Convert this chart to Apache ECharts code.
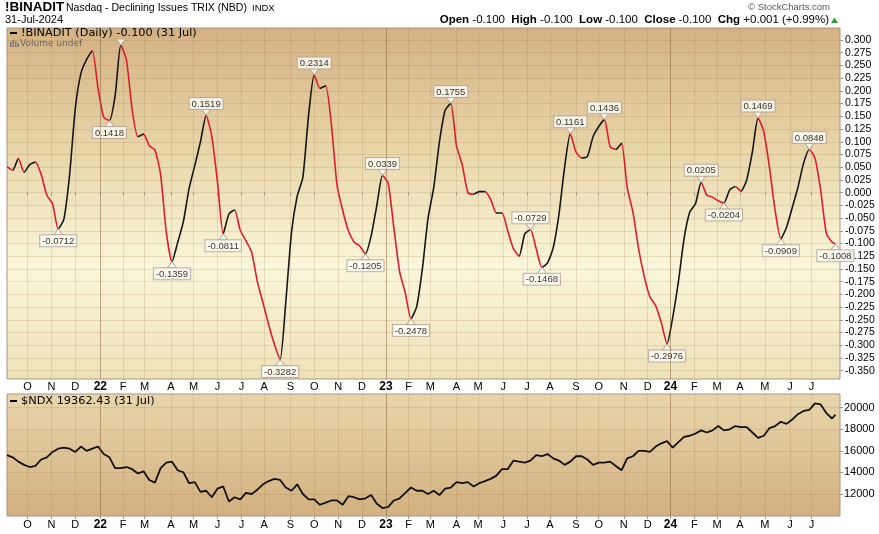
<!DOCTYPE html>
<html>
<head>
<meta charset="utf-8">
<title>!BINADIT Nasdaq - Declining Issues TRIX (NBD)</title>
<script src="https://cdn.jsdelivr.net/npm/echarts@6/dist/echarts.min.js"></script>
<style>
  html, body { margin: 0; padding: 0; background: #fff; }
  #chart { width: 879px; height: 534px; }
</style>
</head>
<body>
<div id="chart"></div>
<script>
// trading calendar: NYSE closed days inside the window
const holidays = [
  '2021-11-25', '2021-12-24', '2022-01-17', '2022-02-21', '2022-04-15', '2022-05-30',
  '2022-06-20', '2022-07-04', '2022-09-05', '2022-11-24', '2022-12-26', '2023-01-02',
  '2023-01-16', '2023-02-20', '2023-04-07', '2023-05-29', '2023-06-19', '2023-07-04',
  '2023-09-04', '2023-11-23', '2023-12-25', '2024-01-01', '2024-01-15', '2024-02-19',
  '2024-03-29', '2024-05-27', '2024-06-19', '2024-07-04'
];
const firstDay = '2021-09-07';
const lastDay = '2024-07-31';
const axisEndDay = '2024-08-06'; // a few blank days right of the last bar

// one reading per week (every 5th trading day), last one is 31 Jul 2024
const trixWeekly = [
  0.051, 0.044, 0.067, 0.040, 0.055, 0.060, 0.036, -0.005, -0.022, -0.0712,
  -0.052, 0.035, 0.165, 0.235, 0.262, 0.279, 0.205, 0.148, 0.1418, 0.190,
  0.290, 0.260, 0.163, 0.110, 0.115, 0.092, 0.084, 0.035, -0.078, -0.1359,
  -0.098, -0.057, 0.008, 0.053, 0.100, 0.1519, 0.110, 0.020, -0.0811, -0.042,
  -0.034, -0.074, -0.095, -0.117, -0.175, -0.217, -0.260, -0.298, -0.3282, -0.215,
  -0.078, -0.007, 0.030, 0.152, 0.2314, 0.205, 0.210, 0.135, 0.015, -0.035,
  -0.075, -0.097, -0.105, -0.1205, -0.085, -0.025, 0.0339, 0.018, -0.070, -0.155,
  -0.197, -0.2478, -0.224, -0.150, -0.050, 0.010, 0.100, 0.162, 0.1755, 0.092,
  0.055, 0.000, -0.003, 0.002, 0.002, -0.013, -0.040, -0.040, -0.075, -0.110,
  -0.125, -0.081, -0.0729, -0.110, -0.1468, -0.138, -0.108, -0.043, 0.050, 0.1161,
  0.080, 0.068, 0.071, 0.110, 0.130, 0.1436, 0.090, 0.085, 0.097, 0.010,
  -0.038, -0.110, -0.165, -0.205, -0.222, -0.256, -0.2976, -0.245, -0.175, -0.090,
  -0.038, -0.022, 0.0205, -0.005, -0.009, -0.016, -0.0204, 0.005, 0.012, 0.003,
  0.025, 0.080, 0.1469, 0.120, 0.050, -0.035, -0.0909, -0.068, -0.030, 0.010,
  0.058, 0.0848, 0.068, 0.005, -0.080, -0.097, -0.1008
];
const ndxWeekly = [
  15600, 15400, 15000, 14700, 14500, 14600, 15200, 15400, 15900, 16200,
  16300, 16200, 15900, 16400, 16000, 16200, 16400, 15700, 15400, 14400,
  14400, 14500, 14300, 13900, 14100, 13300, 13050, 14400, 14900, 15000,
  14200, 14000, 13000, 13100, 12200, 12300, 11700, 12500, 12700, 11300,
  11700, 11500, 12100, 12000, 12400, 12900, 13200, 13400, 13300, 12600,
  12300, 12900, 12000, 11500, 11500, 11000, 11200, 11400, 11400, 11000,
  11800, 11700, 11500, 11600, 11900, 11100, 10700, 10800, 11400, 11600,
  12100, 12600, 12300, 12300, 12000, 12300, 11900, 12500, 12600, 13100,
  13000, 13100, 12700, 13000, 13200, 13400, 13700, 14300, 14300, 15100,
  15000, 14900, 15100, 15600, 15500, 15700, 15300, 15100, 14700, 15000,
  15500, 15500, 15200, 14700, 14900, 14900, 15000, 14600, 14200, 15300,
  15500, 16000, 16000, 15900, 16400, 16700, 16900, 16300, 16800, 17300,
  17400, 17600, 17900, 17700, 17900, 18300, 17900, 18000, 18300, 18200,
  18200, 17700, 17200, 17400, 18100, 18300, 18700, 18500, 18900, 19400,
  19700, 19800, 20400, 20300, 19500, 19000, 19362.43
];

// weeks carrying a value flag; the one in cutNotes has its box hidden under the header
const noteWeeks = [9, 18, 20, 29, 35, 38, 48, 54, 63, 66, 71, 78, 92, 94, 99, 105, 116, 122, 126, 132, 136, 141, 146];
const cutNotes = [20];

const trixTicks = [0.3, 0.275, 0.25, 0.225, 0.2, 0.175, 0.15, 0.125, 0.1, 0.075, 0.05, 0.025, 0,
  -0.025, -0.05, -0.075, -0.1, -0.125, -0.15, -0.175, -0.2, -0.225, -0.25, -0.275, -0.3, -0.325, -0.35];
const ndxTicks = [12000, 14000, 16000, 18000, 20000];
const monthLetters = 'JFMAMJJASOND';

const SANS = '"Liberation Sans", Arial, sans-serif';
const VERD = '"DejaVu Sans", Verdana, sans-serif';
const BORDER = '#a8958a';
const GRID_LINE = 'rgba(140,100,50,0.16)';
const YEAR_LINE = 'rgba(130,90,50,0.38)';
const UP = '#151515';
const DOWN = '#dc1c30';

// build trading days
function buildDays() {
  const out = [];
  const d = new Date(firstDay + 'T00:00:00Z');
  const end = new Date(axisEndDay + 'T00:00:00Z');
  while (d <= end) {
    const wd = d.getUTCDay();
    const s = d.toISOString().slice(0, 10);
    if (wd !== 0 && wd !== 6 && holidays.indexOf(s) < 0) out.push(s);
    d.setUTCDate(d.getUTCDate() + 1);
  }
  return out;
}
const days = buildDays();
const lastIdx = days.indexOf(lastDay);
const dayOfWeek = (i) => Math.min(i * 5, lastIdx);

const monthStarts = new Set();
const yearStarts = [];
for (let i = 1; i <= lastIdx; i++) {
  if (days[i].slice(0, 7) !== days[i - 1].slice(0, 7)) {
    monthStarts.add(i);
    if (days[i].slice(5, 7) === '01') yearStarts.push(i);
  }
}
const isMonthStart = (index) => monthStarts.has(index);

const trixData = trixWeekly.map((v, i) => [days[dayOfWeek(i)], v]);
const ndxData = ndxWeekly.map((v, i) => [days[dayOfWeek(i)], v]);

// black while rising, red while falling
const runs = [];
for (let j = 0; j < trixWeekly.length - 1; j++) {
  const color = trixWeekly[j + 1] < trixWeekly[j] ? DOWN : UP;
  const a = dayOfWeek(j), b = dayOfWeek(j + 1);
  if (runs.length && runs[runs.length - 1].color === color) runs[runs.length - 1].b = b;
  else runs.push({ a, b, color });
}
const trixPieces = runs.map((r, k) => {
  if (k === 0) return { lte: r.b, color: r.color };
  if (k === runs.length - 1) return { gt: r.a, color: r.color };
  return { gt: r.a, lte: r.b, color: r.color };
});

const noteData = noteWeeks.map((w) => {
  const v = trixWeekly[w];
  const prev = trixWeekly[w - 1];
  const next = trixWeekly[w + 1];
  const isPeak = v > prev && (next === undefined || v > next);
  return {
    value: [days[dayOfWeek(w)], v],
    symbolRotate: isPeak ? 180 : 0,
    symbolOffset: [0, isPeak ? -3 : 3],
    label: {
      show: cutNotes.indexOf(w) < 0,
      position: isPeak ? 'top' : 'bottom',
      distance: 0,
      formatter: v.toFixed(4)
    }
  };
});

function monthLabel(value) {
  const m = +value.slice(5, 7);
  if (m === 1) return '{y|' + value.slice(2, 4) + '}';
  return monthLetters[m - 1];
}

function makeX(gridIndex, margin) {
  return {
    type: 'category',
    gridIndex,
    data: days,
    boundaryGap: false,
    axisLine: { show: false },
    axisTick: { show: true, interval: isMonthStart, length: 3, lineStyle: { color: BORDER } },
    axisLabel: {
      interval: isMonthStart,
      margin,
      color: '#000',
      fontSize: 11,
      fontFamily: SANS,
      formatter: monthLabel,
      rich: { y: { fontWeight: 'bold', fontSize: 12, fontFamily: SANS, color: '#000' } }
    },
    splitLine: { show: true, interval: isMonthStart, lineStyle: { color: GRID_LINE, width: 1 } }
  };
}

function yearLines(xi, yi) {
  return {
    type: 'line', xAxisIndex: xi, yAxisIndex: yi, data: [], z: 1, silent: true,
    markLine: {
      silent: true, symbol: ['none', 'none'], label: { show: false }, animation: false,
      lineStyle: { color: YEAR_LINE, width: 1, type: 'solid' },
      data: yearStarts.map((i) => ({ xAxis: days[i] }))
    }
  };
}

const chart = echarts.init(document.getElementById('chart'));

chart.setOption({
  animation: false,
  backgroundColor: '#ffffff',
  textStyle: { fontFamily: SANS },
  grid: [
    {
      left: 7, right: 39, top: 28, height: 351, show: true, borderColor: BORDER, borderWidth: 1,
      backgroundColor: {
        type: 'linear', x: 0, y: 0, x2: 0, y2: 1,
        colorStops: [
          { offset: 0, color: '#d4b183' },
          { offset: 0.35, color: '#e8d6a9' },
          { offset: 0.68, color: '#faf6da' },
          { offset: 1, color: '#eee1b7' }
        ]
      }
    },
    {
      left: 7, right: 39, top: 394, height: 122, show: true, borderColor: BORDER, borderWidth: 1,
      backgroundColor: {
        type: 'linear', x: 0, y: 0, x2: 0, y2: 1,
        colorStops: [
          { offset: 0, color: '#e9d6ac' },
          { offset: 1, color: '#d2b07f' }
        ]
      }
    }
  ],
  xAxis: [makeX(0, 2), makeX(1, 3)],
  yAxis: [
    {
      type: 'value', gridIndex: 0, position: 'right', min: -0.3663, max: 0.3236,
      axisLine: { show: false },
      axisTick: { show: true, length: 3, customValues: trixTicks, lineStyle: { color: BORDER } },
      axisLabel: { customValues: trixTicks, margin: 5, color: '#000', fontSize: 10.5, fontFamily: SANS,
        formatter: (v) => v.toFixed(3) },
      splitLine: { show: true, lineStyle: { color: GRID_LINE, width: 1 } }
    },
    {
      type: 'value', gridIndex: 1, position: 'right', min: 9960, max: 21270,
      axisLine: { show: false },
      axisTick: { show: true, length: 3, customValues: ndxTicks, lineStyle: { color: BORDER } },
      axisLabel: { customValues: ndxTicks, margin: 4, color: '#000', fontSize: 11, fontFamily: SANS,
        formatter: (v) => String(v) },
      splitLine: { show: true, lineStyle: { color: GRID_LINE, width: 1 } }
    }
  ],
  visualMap: {
    type: 'piecewise', show: false, dimension: 0, seriesIndex: 0,
    pieces: trixPieces, outOfRange: { color: UP }
  },
  series: [
    {
      name: '!BINADIT', type: 'line', xAxisIndex: 0, yAxisIndex: 0, data: trixData,
      symbol: 'none', smooth: 0.2, lineStyle: { width: 1.6 }, z: 3
    },
    {
      name: '$NDX', type: 'line', xAxisIndex: 1, yAxisIndex: 1, data: ndxData,
      symbol: 'none', lineStyle: { width: 1.8, color: '#111' }, itemStyle: { color: '#111' }, z: 3
    },
    {
      name: 'notes', type: 'scatter', xAxisIndex: 0, yAxisIndex: 0, data: noteData, silent: true, z: 4,
      symbol: 'triangle', symbolSize: [9, 6],
      itemStyle: { color: '#fffef4', borderColor: '#b3a398', borderWidth: 1 },
      label: {
        color: '#000', fontSize: 9.5, fontFamily: SANS, lineHeight: 10,
        backgroundColor: '#fffef7', borderColor: '#b3a398', borderWidth: 1, padding: [1, 2, 0, 2]
      }
    },
    yearLines(0, 0),
    yearLines(1, 1)
  ],
  graphic: [
    { type: 'text', x: 5, y: 7, z: 10, style: { text: '!BINADIT', fontSize: 13.5, fontWeight: 'bold', fontFamily: SANS, fill: '#000', verticalAlign: 'middle' } },
    { type: 'text', x: 66, y: 8, z: 10, style: { text: 'Nasdaq - Declining Issues TRIX (NBD)', fontSize: 10.5, fontFamily: SANS, fill: '#000', verticalAlign: 'middle' } },
    { type: 'text', x: 252, y: 8, z: 10, style: { text: 'INDX', fontSize: 9.5, fontFamily: SANS, fill: '#000', verticalAlign: 'middle' } },
    { type: 'text', x: 5, y: 20, z: 10, style: { text: '31-Jul-2024', fontSize: 11, fontFamily: SANS, fill: '#000', verticalAlign: 'middle' } },
    { type: 'text', x: 830, y: 7, z: 10, style: { text: '© StockCharts.com', fontSize: 9.5, fontFamily: SANS, fill: '#555', align: 'right', verticalAlign: 'middle' } },
    {
      type: 'text', x: 829, y: 20, z: 10,
      style: {
        text: '{b|Open} -0.100  {b|High} -0.100  {b|Low} -0.100  {b|Close} -0.100  {b|Chg} +0.001 (+0.99%)',
        fontSize: 11.5, fontFamily: SANS, fill: '#000', align: 'right', verticalAlign: 'middle',
        rich: { b: { fontWeight: 'bold', fontSize: 11.5, fontFamily: SANS, fill: '#000' } }
      }
    },
    { type: 'polygon', z: 10, shape: { points: [[831, 23], [838, 23], [834.5, 17.5]] }, style: { fill: '#2e9a3a' } },
    { type: 'rect', z: 10, shape: { x: 10, y: 32, width: 7, height: 2 }, style: { fill: '#000' } },
    { type: 'text', x: 21, y: 33, z: 10, style: { text: '!BINADIT (Daily) -0.100 (31 Jul)', fontSize: 11.3, fontFamily: VERD, fill: '#000', verticalAlign: 'middle' } },
    { type: 'rect', z: 10, shape: { x: 10, y: 42, width: 1.5, height: 5 }, style: { fill: '#777' } },
    { type: 'rect', z: 10, shape: { x: 12.5, y: 40, width: 1.5, height: 7 }, style: { fill: '#777' } },
    { type: 'rect', z: 10, shape: { x: 15, y: 41, width: 1.5, height: 6 }, style: { fill: '#777' } },
    { type: 'rect', z: 10, shape: { x: 17.5, y: 43, width: 1.5, height: 4 }, style: { fill: '#777' } },
    { type: 'text', x: 20, y: 44, z: 10, style: { text: 'Volume undef', fontSize: 9, fontFamily: VERD, fill: '#666', verticalAlign: 'middle' } },
    { type: 'rect', z: 10, shape: { x: 10, y: 400, width: 7, height: 2 }, style: { fill: '#000' } },
    { type: 'text', x: 21, y: 401, z: 10, style: { text: '$NDX 19362.43 (31 Jul)', fontSize: 11.3, fontFamily: VERD, fill: '#000', verticalAlign: 'middle' } }
  ]
});
</script>
</body>
</html>
